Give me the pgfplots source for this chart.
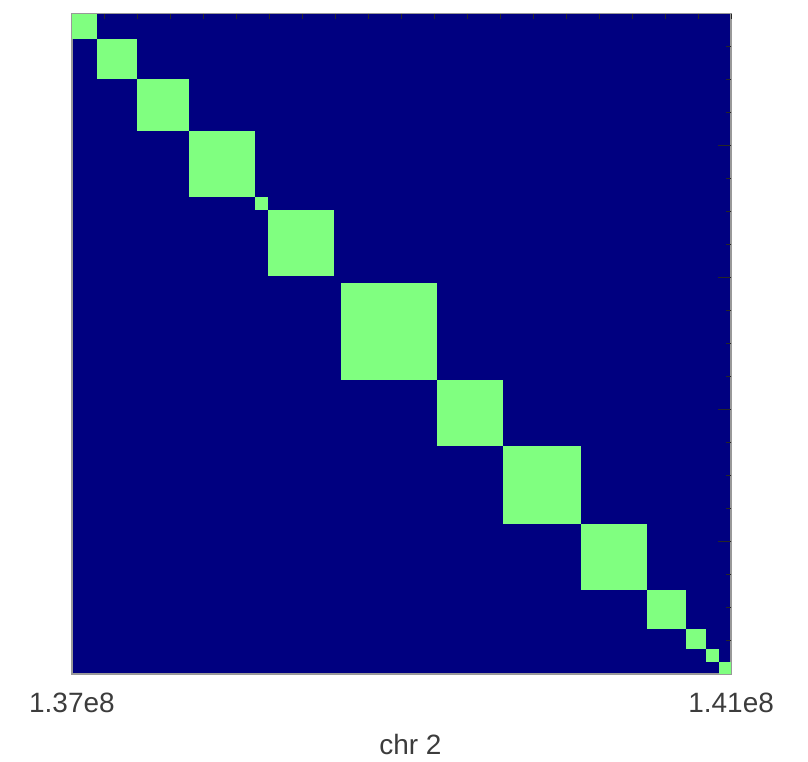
\documentclass[border=0pt]{standalone}
\usepackage{pgfplots}
\pgfplotsset{compat=1.18}
\usepackage{fontspec}
\setmainfont{Liberation Sans}
\definecolor{bgnavy}{RGB}{0,0,128}
\definecolor{blockgreen}{RGB}{128,255,128}
\definecolor{txtgray}{RGB}{60,60,60}
\begin{document}
\begin{tikzpicture}
\path (-36pt,-42.5pt) rectangle (368.5pt,336.5pt);
\begin{axis}[
  at={(0pt,0pt)}, anchor=south west,
  scale only axis, width=330pt, height=330.5pt,
  xmin=137, xmax=141, ymin=137, ymax=141,
  y dir=reverse,
  axis background/.style={fill=bgnavy},
  axis line style={draw=gray!80, line width=0.6pt},
  xtick={137,141}, xticklabels={{1.37e8},{1.41e8}},
  ytick=\empty,
  major tick length=0pt,
  xticklabel style={font=\fontsize{14}{16}\selectfont, text=txtgray, yshift=-6pt},
  xlabel={chr 2},
  xlabel style={font=\fontsize{14}{16}\selectfont, text=txtgray, xshift=4.5pt, yshift=-4pt},
]
\addplot[fill=blockgreen, draw=none] coordinates {(137.000,137.000) (137.152,137.000) (137.152,137.152) (137.000,137.152)};
\addplot[fill=blockgreen, draw=none] coordinates {(137.152,137.152) (137.394,137.152) (137.394,137.394) (137.152,137.394)};
\addplot[fill=blockgreen, draw=none] coordinates {(137.394,137.394) (137.712,137.394) (137.712,137.712) (137.394,137.712)};
\addplot[fill=blockgreen, draw=none] coordinates {(137.712,137.712) (138.109,137.712) (138.109,138.109) (137.712,138.109)};
\addplot[fill=blockgreen, draw=none] coordinates {(138.109,138.109) (138.188,138.109) (138.188,138.188) (138.109,138.188)};
\addplot[fill=blockgreen, draw=none] coordinates {(138.188,138.188) (138.591,138.188) (138.591,138.591) (138.188,138.591)};
\addplot[fill=blockgreen, draw=none] coordinates {(138.630,138.630) (139.218,138.630) (139.218,139.218) (138.630,139.218)};
\addplot[fill=blockgreen, draw=none] coordinates {(139.218,139.218) (139.618,139.218) (139.618,139.618) (139.218,139.618)};
\addplot[fill=blockgreen, draw=none] coordinates {(139.618,139.618) (140.091,139.618) (140.091,140.091) (139.618,140.091)};
\addplot[fill=blockgreen, draw=none] coordinates {(140.091,140.091) (140.491,140.091) (140.491,140.491) (140.091,140.491)};
\addplot[fill=blockgreen, draw=none] coordinates {(140.491,140.491) (140.727,140.491) (140.727,140.727) (140.491,140.727)};
\addplot[fill=blockgreen, draw=none] coordinates {(140.727,140.727) (140.848,140.727) (140.848,140.848) (140.727,140.848)};
\addplot[fill=blockgreen, draw=none] coordinates {(140.848,140.848) (140.927,140.848) (140.927,140.927) (140.848,140.927)};
\addplot[fill=blockgreen, draw=none] coordinates {(140.927,140.927) (141.000,140.927) (141.000,141.000) (140.927,141.000)};
\end{axis}
\begin{axis}[
  at={(0pt,0pt)}, anchor=south west,
  scale only axis, width=330pt, height=330.5pt,
  xmin=137, xmax=141, ymin=137, ymax=141,
  y dir=reverse,
  axis line style={draw=none},
  xtick={137.2,137.4,...,140.9}, xticklabels={},
  xtick pos=upper, ytick pos=upper,
  ytick={137.8,138.6,139.4,140.2}, yticklabels={},
  minor ytick={137.2,137.4,137.6,138.0,138.2,138.4,138.8,139.0,139.2,139.6,139.8,140.0,140.4,140.6,140.8},
  tick align=inside,
  major tick length=6.5pt, minor tick length=2.5pt,
  xtick style={/pgfplots/major tick length=2.5pt},
  tick style={black!85, line width=0.5pt},
]
\addplot[draw=none] coordinates {(137,137)};
\end{axis}
\end{tikzpicture}
\end{document}
